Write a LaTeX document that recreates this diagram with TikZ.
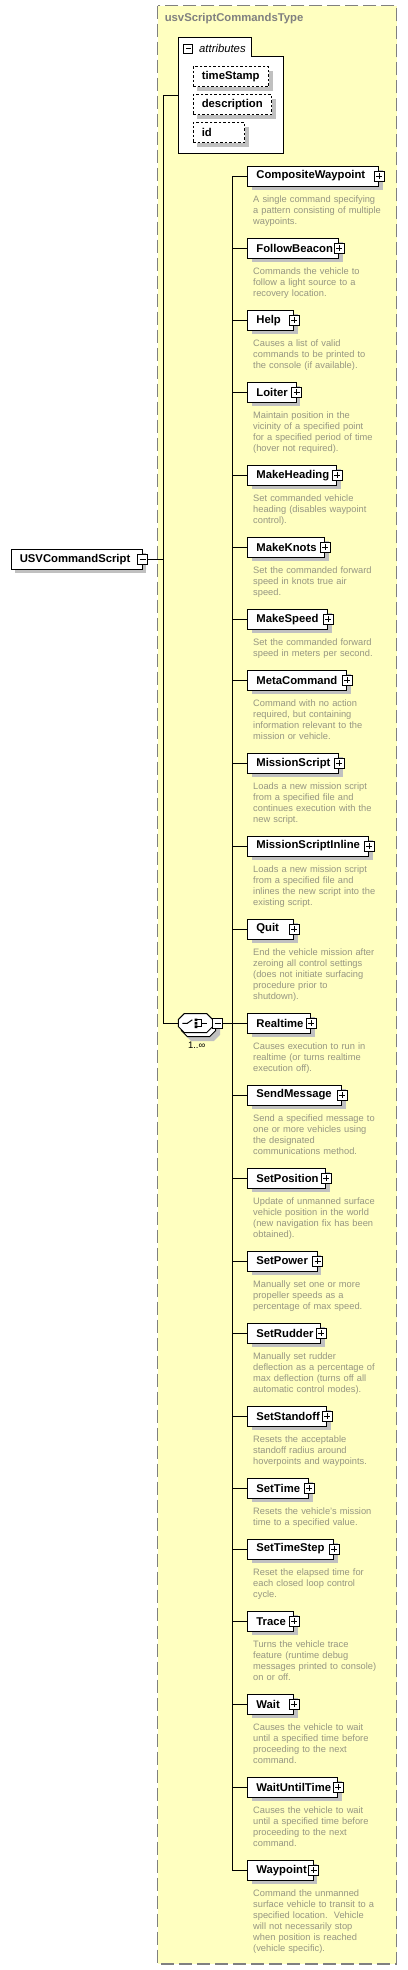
\documentclass[tikz,border=0pt]{standalone}
\usepackage{fontspec}
\setmainfont{Liberation Sans}
\usepackage{tikz}
\usetikzlibrary{calc, positioning}
\definecolor{typefill}{RGB}{255,255,192}
\definecolor{typeborder}{RGB}{128,128,128}
\definecolor{shadowgray}{RGB}{192,192,192}
\definecolor{descgray}{RGB}{150,150,130}

\begin{document}
\begin{tikzpicture}[x=1pt, y=-1pt, line width=1pt,
        boxshadow/.style={preaction={draw=none, fill=shadowgray, transform canvas={xshift=4pt, yshift=-4pt}}},
        elem/.style={rectangle, draw, fill=white, boxshadow, minimum height=20pt, inner xsep=8.6pt, inner ysep=0pt, anchor=west, align=left, text width=#1, font=\fontsize{11.3}{13}\selectfont\bfseries},
        attr/.style={elem=#1, dash pattern=on 2.5pt off 2pt},
        desc/.style={anchor=base west, inner sep=0pt, align=left, text width=150pt, text=descgray, font=\fontsize{9.3}{11}\selectfont},
        minusbox/.style={rectangle, draw, fill=white, minimum size=10pt, inner sep=0pt, line width=0.8pt,
            path picture={\draw[line width=0.8pt] ([xshift=2pt]path picture bounding box.west) -- ([xshift=-2pt]path picture bounding box.east);}},
        plusbox/.style={minusbox,
            path picture={\draw[line width=0.8pt] ([xshift=2pt]path picture bounding box.west) -- ([xshift=-2pt]path picture bounding box.east)
                ([yshift=-2pt]path picture bounding box.north) -- ([yshift=2pt]path picture bounding box.south);}}
    ]
        \useasboundingbox (0,0) rectangle (407,1970);

        % Complex type frame
        \draw[typeborder, fill=typefill, line width=1.3pt, dash pattern=on 13pt off 5pt] (157.7,5.7) rectangle (396.7,1964);
        \node[anchor=west, inner sep=0pt, text=typeborder, font=\fontsize{11.3}{13}\selectfont\bfseries] (title) at (164.3,19) {usvScriptCommandsType};

        % Root element
        \node[elem=113.8pt] (root) at (10.7,559.3) {USVCommandScript};
        \node[minusbox] (rootx) at (root.east) {};

        % Attributes group
        \node[minimum width=104pt, minimum height=115pt, inner sep=0pt] (attrs) at (230.7,95.8) {};
        \draw[fill=white] (attrs.north west) -- ++(73,0) -- ++(0,19) -| (attrs.south east) -- (attrs.south west) -- cycle;
        \node[minusbox, minimum size=9pt] (attrsx) at (188.3,48.6) {};
        \node[anchor=west, inner sep=0pt, font=\fontsize{11.3}{13}\selectfont\itshape] (attrslbl) at (198.7,48) {attributes};
        \node[attr=58.4pt] (ts) at (192.7,76.5) {timeStamp};
        \node[attr=61.1pt] (dsc) at (192.7,104.5) {description};
        \node[attr=34.1pt] (id) at (192.7,132.5) {id};

        % Sequence compositor
        \node[minimum width=34.4pt, minimum height=19pt, inner sep=0pt] (seq) at (195.5,1023) {};
        \draw[shadowgray, fill=shadowgray, shift={(seq.center)}, xshift=7pt, yshift=-8pt]
            (-11.2,-9.5) -- (11.2,-9.5) -- (17.2,-3.5) -- (17.2,3.5) -- (11.2,9.5) -- (-11.2,9.5) -- (-17.2,3.5) -- (-17.2,-3.5) -- cycle;
        \draw[fill=white, shift={(seq.center)}, xshift=3pt, yshift=-4pt]
            (-11.2,-9.5) -- (11.2,-9.5) -- (17.2,-3.5) -- (17.2,3.5) -- (11.2,9.5) -- (-11.2,9.5) -- (-17.2,3.5) -- (-17.2,-3.5) -- cycle;
        \draw[fill=white, shift={(seq.center)}]
            (-11.2,-9.5) -- (11.2,-9.5) -- (17.2,-3.5) -- (17.2,3.5) -- (11.2,9.5) -- (-11.2,9.5) -- (-17.2,3.5) -- (-17.2,-3.5) -- cycle;
        \draw[shift={(seq.center)}] (-13.2,0.3) -- (-8.2,0.3) -- (-3.2,-3.2);
        \fill[shift={(seq.center)}] (-0.8,-4.4) rectangle (1.8,-1.8) (-0.8,-1) rectangle (1.8,1.6) (-0.8,2.4) rectangle (1.8,5);
        \draw[shift={(seq.center)}, line width=0.9pt] (1.8,-3.1) -- (5.5,-3.1) -- (5.5,3.7) -- (1.8,3.7) (5.5,0.3) -- (11.5,0.3);
        \node[minusbox] (seqx) at (217.7,1023) {};
        \node[inner sep=0pt, font=\fontsize{9.5}{11}\selectfont] (seqcard) at (196.7,1045) {1..∞};

        % Child elements
        \node[elem=113.8pt] (cw) at (247.3,176) {CompositeWaypoint};
        \node[plusbox] (cwx) at (cw.east) {};
        \node[desc] (cwd) at ([shift={(5.4,15.8)}]cw.south west) {A single command specifying\\a pattern consisting of multiple\\waypoints.};

        \node[elem=73.8pt] (fb) at (247.3,248.3) {FollowBeacon};
        \node[plusbox] (fbx) at (fb.east) {};
        \node[desc] (fbd) at ([shift={(5.4,15.8)}]fb.south west) {Commands the vehicle to\\follow a light source to a\\recovery location.};

        \node[elem=28.8pt] (help) at (247.3,320.3) {Help};
        \node[plusbox] (helpx) at (help.east) {};
        \node[desc] (helpd) at ([shift={(5.4,15.8)}]help.south west) {Causes a list of valid\\commands to be printed to\\the console (if available).};

        \node[elem=31.2pt] (loiter) at (247.3,392.3) {Loiter};
        \node[plusbox] (loiterx) at (loiter.east) {};
        \node[desc] (loiterd) at ([shift={(5.4,15.8)}]loiter.south west) {Maintain position in the\\vicinity of a specified point\\for a specified period of time\\(hover not required).};

        \node[elem=71.8pt] (mh) at (247.3,475.3) {MakeHeading};
        \node[plusbox] (mhx) at (mh.east) {};
        \node[desc] (mhd) at ([shift={(5.4,15.8)}]mh.south west) {Set commanded vehicle\\heading (disables waypoint\\control).};

        \node[elem=59.8pt] (mk) at (247.3,547.3) {MakeKnots};
        \node[plusbox] (mkx) at (mk.east) {};
        \node[desc] (mkd) at ([shift={(5.4,15.8)}]mk.south west) {Set the commanded forward\\speed in knots true air\\speed.};

        \node[elem=62.8pt] (ms) at (247.3,619.3) {MakeSpeed};
        \node[plusbox] (msx) at (ms.east) {};
        \node[desc] (msd) at ([shift={(5.4,15.8)}]ms.south west) {Set the commanded forward\\speed in meters per second.};

        \node[elem=81.5pt] (mc) at (247.3,680.3) {MetaCommand};
        \node[plusbox] (mcx) at (mc.east) {};
        \node[desc] (mcd) at ([shift={(5.4,15.8)}]mc.south west) {Command with no action\\required, but containing\\information relevant to the\\mission or vehicle.};

        \node[elem=73.8pt] (msc) at (247.3,763.3) {MissionScript};
        \node[plusbox] (mscx) at (msc.east) {};
        \node[desc] (mscd) at ([shift={(5.4,15.8)}]msc.south west) {Loads a new mission script\\from a specified file and\\continues execution with the\\new script.};

        \node[elem=103.8pt] (msi) at (247.3,846) {MissionScriptInline};
        \node[plusbox] (msix) at (msi.east) {};
        \node[desc] (msid) at ([shift={(5.4,15.8)}]msi.south west) {Loads a new mission script\\from a specified file and\\inlines the new script into the\\existing script.};

        \node[elem=28.8pt] (quit) at (247.3,929) {Quit};
        \node[plusbox] (quitx) at (quit.east) {};
        \node[desc] (quitd) at ([shift={(5.4,15.8)}]quit.south west) {End the vehicle mission after\\zeroing all control settings\\(does not initiate surfacing\\procedure prior to\\shutdown).};

        \node[elem=45.5pt] (rt) at (247.3,1023) {Realtime};
        \node[plusbox] (rtx) at (rt.east) {};
        \node[desc] (rtd) at ([shift={(5.4,15.8)}]rt.south west) {Causes execution to run in\\realtime (or turns realtime\\execution off).};

        \node[elem=76.5pt] (sm) at (247.3,1095) {SendMessage};
        \node[plusbox] (smx) at (sm.east) {};
        \node[desc] (smd) at ([shift={(5.4,15.8)}]sm.south west) {Send a specified message to\\one or more vehicles using\\the designated\\communications method.};

        \node[elem=60.8pt] (spos) at (247.3,1178) {SetPosition};
        \node[plusbox] (sposx) at (spos.east) {};
        \node[desc] (sposd) at ([shift={(5.4,15.8)}]spos.south west) {Update of unmanned surface\\vehicle position in the world\\(new navigation fix has been\\obtained).};

        \node[elem=52.2pt] (spow) at (247.3,1261) {SetPower};
        \node[plusbox] (spowx) at (spow.east) {};
        \node[desc] (spowd) at ([shift={(5.4,15.8)}]spow.south west) {Manually set one or more\\propeller speeds as a\\percentage of max speed.};

        \node[elem=55.8pt] (sr) at (247.3,1333.3) {SetRudder};
        \node[plusbox] (srx) at (sr.east) {};
        \node[desc] (srd) at ([shift={(5.4,15.8)}]sr.south west) {Manually set rudder\\deflection as a percentage of\\max deflection (turns off all\\automatic control modes).};

        \node[elem=61.8pt] (sso) at (247.3,1416.3) {SetStandoff};
        \node[plusbox] (ssox) at (sso.east) {};
        \node[desc] (ssod) at ([shift={(5.4,15.8)}]sso.south west) {Resets the acceptable\\standoff radius around\\hoverpoints and waypoints.};

        \node[elem=43.8pt] (st) at (247.3,1488.3) {SetTime};
        \node[plusbox] (stx) at (st.east) {};
        \node[desc] (std) at ([shift={(5.4,15.8)}]st.south west) {Resets the vehicle's mission\\time to a specified value.};

        \node[elem=68.8pt] (sts) at (247.3,1549) {SetTimeStep};
        \node[plusbox] (stsx) at (sts.east) {};
        \node[desc] (stsd) at ([shift={(5.4,15.8)}]sts.south west) {Reset the elapsed time for\\each closed loop control\\cycle.};

        \node[elem=28.8pt] (trace) at (247.3,1621.3) {Trace};
        \node[plusbox] (tracex) at (trace.east) {};
        \node[desc] (traced) at ([shift={(5.4,15.8)}]trace.south west) {Turns the vehicle trace\\feature (runtime debug\\messages printed to console)\\on or off.};

        \node[elem=28.8pt] (wait) at (247.3,1704.3) {Wait};
        \node[plusbox] (waitx) at (wait.east) {};
        \node[desc] (waitd) at ([shift={(5.4,15.8)}]wait.south west) {Causes the vehicle to wait\\until a specified time before\\proceeding to the next\\command.};

        \node[elem=72.8pt] (wut) at (247.3,1787.3) {WaitUntilTime};
        \node[plusbox] (wutx) at (wut.east) {};
        \node[desc] (wutd) at ([shift={(5.4,15.8)}]wut.south west) {Causes the vehicle to wait\\until a specified time before\\proceeding to the next\\command.};

        \node[elem=48.2pt] (wp) at (247.3,1870.3) {Waypoint};
        \node[plusbox] (wpx) at (wp.east) {};
        \node[desc] (wpd) at ([shift={(5.4,15.8)}]wp.south west) {Command the unmanned\\surface vehicle to transit to a\\specified location.~~Vehicle\\will not necessarily stop\\when position is reached\\(vehicle specific).};

        % Connectors
        \coordinate (trunk) at (163.3,559.3);
        \coordinate (bus) at (232.3,1023);
        \draw (rootx.east) -- (trunk);
        \draw (attrs.west) -| (seq.west -| trunk) -- (seq.west);
        \draw (seqx.east) -- (bus);
        \draw (cw.west) -| (wp.west -| bus) -- (wp.west);
        \draw (fb.west -| bus) -- (fb.west);
        \draw (help.west -| bus) -- (help.west);
        \draw (loiter.west -| bus) -- (loiter.west);
        \draw (mh.west -| bus) -- (mh.west);
        \draw (mk.west -| bus) -- (mk.west);
        \draw (ms.west -| bus) -- (ms.west);
        \draw (mc.west -| bus) -- (mc.west);
        \draw (msc.west -| bus) -- (msc.west);
        \draw (msi.west -| bus) -- (msi.west);
        \draw (quit.west -| bus) -- (quit.west);
        \draw (rt.west -| bus) -- (rt.west);
        \draw (sm.west -| bus) -- (sm.west);
        \draw (spos.west -| bus) -- (spos.west);
        \draw (spow.west -| bus) -- (spow.west);
        \draw (sr.west -| bus) -- (sr.west);
        \draw (sso.west -| bus) -- (sso.west);
        \draw (st.west -| bus) -- (st.west);
        \draw (sts.west -| bus) -- (sts.west);
        \draw (trace.west -| bus) -- (trace.west);
        \draw (wait.west -| bus) -- (wait.west);
        \draw (wut.west -| bus) -- (wut.west);
        \draw (wp.west -| bus) -- (wp.west);
    \end{tikzpicture}
\end{document}
